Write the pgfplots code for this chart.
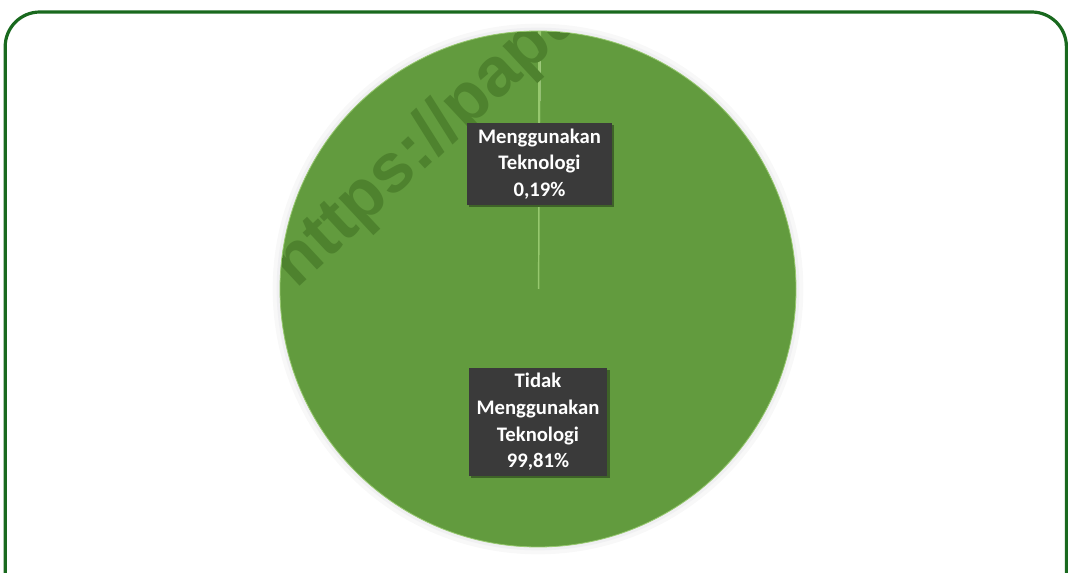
\documentclass[border=0pt]{standalone}
\usepackage{pgfplots}
\pgfplotsset{compat=1.18}
\usepackage{pgfplotstable}
\usepackage{fontspec}
\setmainfont{Carlito}
\newfontfamily\wmfont{Liberation Sans}
\definecolor{piegreen}{RGB}{98,155,62}
\definecolor{pielight}{RGB}{150,200,110}
\definecolor{framegreen}{RGB}{25,105,30}
\definecolor{boxgray}{RGB}{58,58,58}
\definecolor{boxshadow}{RGB}{62,98,40}
\definecolor{wmdark}{RGB}{78,130,46}
\definecolor{halo1}{RGB}{248,248,248}
\definecolor{halo2}{RGB}{240,240,242}
\begin{document}
\begin{tikzpicture}
\pgfplotstableread{
label value
Menggunakan 0.19
Tidak 99.81
}\piedata
\pgfplotstablegetelem{0}{value}\of\piedata \let\va\pgfplotsretval
\pgfplotstablegetelem{1}{value}\of\piedata \let\vb\pgfplotsretval
\pgfmathsetmacro\aA{90-3.6*\va}
\pgfmathsetmacro\aB{\aA-3.6*\vb}
\useasboundingbox (0,0) rectangle (801pt,429pt);
% soft halo round the pie
\fill[halo1] (403.5pt,212.25pt) circle[radius=199pt];
\fill[halo2] (403.5pt,212.25pt) circle[radius=196pt];
\begin{axis}[hide axis, scale only axis, width=801pt, height=429pt,
  xmin=0, xmax=1068, ymin=0, ymax=572, at={(0,0)}, anchor=south west, clip=false]
% slices
\fill[piegreen] (axis cs:538,283) -- ([shift={(\aA:193.5pt)}]axis cs:538,283) arc[start angle=\aA, end angle=\aB, radius=193.5pt] -- cycle;
\fill[pielight] (axis cs:538,283) -- ([shift={(90:193.5pt)}]axis cs:538,283) arc[start angle=90, end angle=\aA, radius=193.5pt] -- cycle;
\draw[pielight, line width=1.1pt] (axis cs:538.6,283) -- ([shift={(89.6:193.5pt)}]axis cs:538,283);
\draw[pielight, line width=0.6pt] (axis cs:538,283) circle[radius=193.5pt];
\end{axis}
% watermark over the pie
\begin{scope}
\clip (403.5pt,212.25pt) circle[radius=193.2pt];
\node[rotate=43, anchor=base west, inner sep=0pt, text=wmdark,
  font=\wmfont\bfseries\fontsize{52}{52}\selectfont] at (222pt,212pt) {https://papua};
\end{scope}
% labels
\fill[boxshadow] (351.75pt,273.75pt) rectangle (460.5pt,335.25pt);
\node[fill=boxgray, text=white, minimum width=109pt, minimum height=61.5pt, inner sep=0pt, align=center,
  font=\bfseries\fontsize{15.5}{20}\selectfont] at (404.6pt,306pt) {Menggunakan\\Teknologi\\0,19\%};
\fill[boxshadow] (353.4pt,70.5pt) rectangle (457.6pt,151.5pt);
\node[fill=boxgray, text=white, minimum width=104pt, minimum height=81pt, inner sep=0pt, align=center,
  font=\bfseries\fontsize{15.5}{20}\selectfont] at (403.5pt,112.5pt) {Tidak\\Menggunakan\\Teknologi\\99,81\%};
\draw[framegreen, line width=2.4pt, rounded corners=26pt] (3.9pt,-20pt) -- (3.9pt,420pt) -- (799.8pt,420pt) -- (799.8pt,-20pt);
\end{tikzpicture}
\end{document}
